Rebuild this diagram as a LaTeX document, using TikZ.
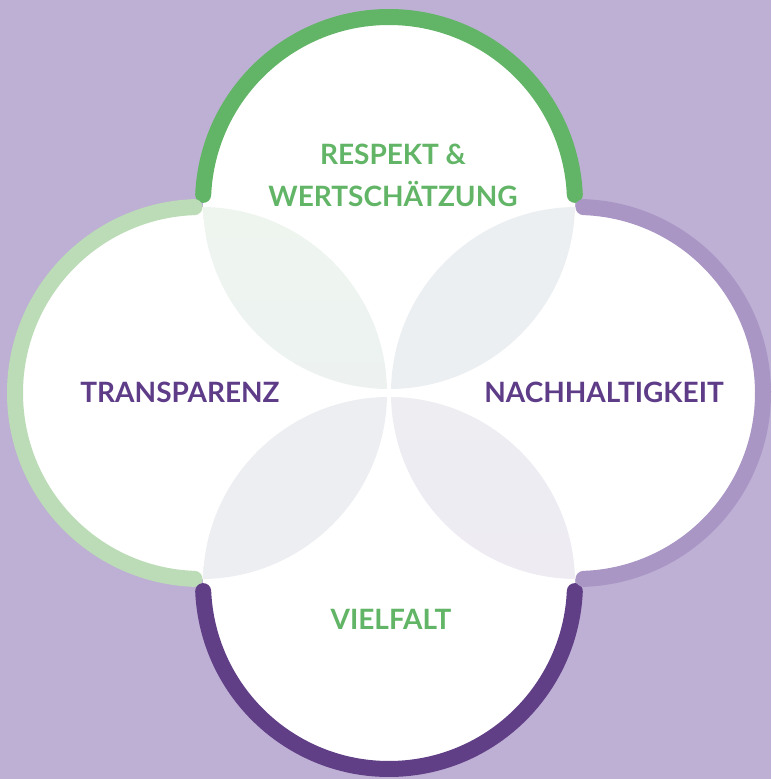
\documentclass[tikz,border=0pt]{standalone}
\usepackage{fontspec}
\setmainfont{Lato}
\definecolor{bglilac}{RGB}{190, 176, 212}
\definecolor{leafgreen}{RGB}{98, 181, 102}
\definecolor{palegreen}{RGB}{187, 220, 182}
\definecolor{softlilac}{RGB}{169, 150, 197}
\definecolor{deeppurple}{RGB}{97, 63, 135}
\definecolor{textpurple}{RGB}{94, 60, 136}
\definecolor{petalgreen}{RGB}{238, 245, 239}
\definecolor{petalgrey}{RGB}{236, 239, 241}
\definecolor{petallilac}{RGB}{238, 235, 243}

\begin{document}
\begin{tikzpicture}[x=1pt, y=1pt,
  ring/.style={line width=16pt, line cap=round},
  value/.style={font=\fontsize{28}{42}\selectfont\bfseries, align=center, inner sep=0pt}]
  \useasboundingbox (0,0) rectangle (771,779);
  \fill[bglilac] (0,0) rectangle (771,779);

  % Circle centres
  \coordinate (ctop) at (389,576);
  \coordinate (cbot) at (389,196);
  \coordinate (cleft) at (201,386);
  \coordinate (cright) at (577,386);

  % White discs (and the small middle between them)
  \foreach \c in {ctop,cbot,cleft,cright}
    \fill[white] (\c) circle[radius=186];
  \fill[white] (ctop) -- (cleft) -- (cbot) -- (cright) -- cycle;

  % Petals where two discs overlap
  \begin{scope}
    \clip (ctop) circle[radius=186];
    \shade[top color=petalgreen, bottom color=petalgrey] (cleft) circle[radius=186];
  \end{scope}
  \begin{scope}
    \clip (ctop) circle[radius=186];
    \shade[top color=petalgrey, bottom color=petalgrey] (cright) circle[radius=186];
  \end{scope}
  \begin{scope}
    \clip (cbot) circle[radius=186];
    \shade[top color=petalgrey, bottom color=petalgrey!70!petallilac] (cleft) circle[radius=186];
  \end{scope}
  \begin{scope}
    \clip (cbot) circle[radius=186];
    \shade[top color=petalgrey, bottom color=petallilac] (cright) circle[radius=186];
  \end{scope}

  % Coloured rims
  \draw[ring, leafgreen] ([shift={(177.5:186)}]ctop) arc[start angle=177.5, end angle=2.5, radius=186];
  \draw[ring, palegreen] ([shift={(92:186)}]cleft) arc[start angle=92, end angle=268, radius=186];
  \draw[ring, deeppurple] ([shift={(182.5:186)}]cbot) arc[start angle=182.5, end angle=357.5, radius=186];
  \draw[ring, softlilac] ([shift={(-88:186)}]cright) arc[start angle=-88, end angle=88, radius=186];

  % Labels
  \node[value, text=leafgreen] (respekt) at (393,604) {RESPEKT \&\\WERTSCHÄTZUNG};
  \node[value, text=textpurple, anchor=base] (transparenz) at (180,376) {TRANSPARENZ};
  \node[value, text=textpurple, anchor=base] (nachhaltigkeit) at (604,376) {NACHHALTIGKEIT};
  \node[value, text=leafgreen, anchor=base] (vielfalt) at (391,149) {VIELFALT};
\end{tikzpicture}
\end{document}
